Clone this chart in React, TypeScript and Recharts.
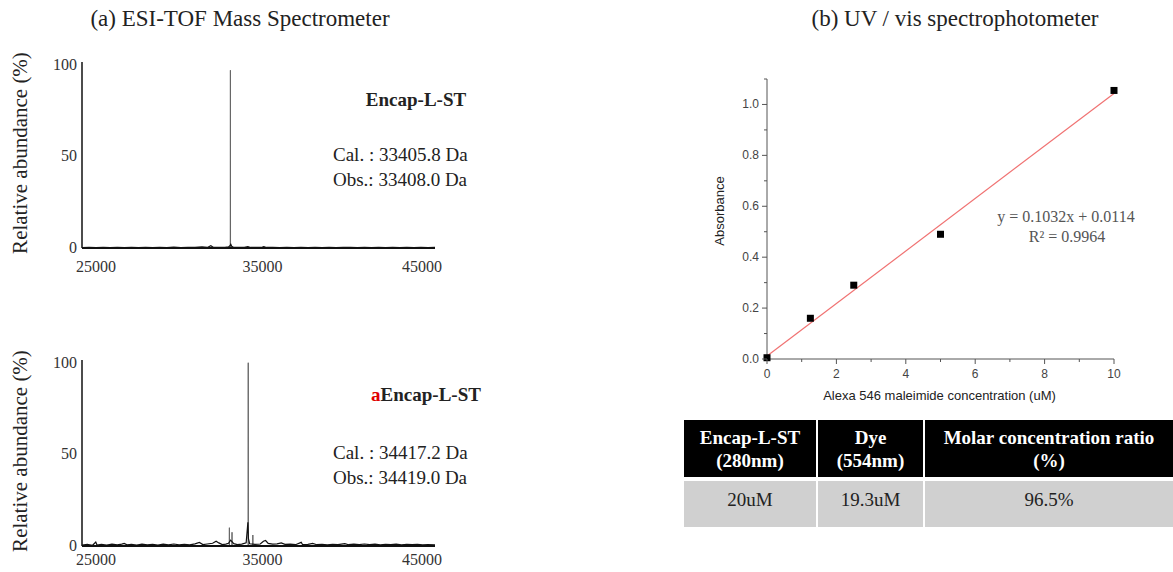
import React from 'react'
import { LineChart, Line, XAxis, YAxis, ComposedChart, Scatter, Label } from 'recharts'

const SERIF = '"Liberation Serif", "Times New Roman", serif'
const SANS = '"Liberation Sans", Arial, sans-serif'

// (a) mass spectra
const massTicks = [25000, 35000, 45000]
const abundanceTicks = [0, 50, 100]

// Encap-L-ST: baseline noise and main peak
const topNoiseMass = [
  25000, 25400, 25800, 26200, 26600, 27000, 27400, 27800, 28200, 28600, 29000, 29400, 29800, 30200,
  30600, 31000, 31400, 31800, 32100, 32300, 32450, 32800, 33100, 33300, 33380, 33430, 33480, 33600,
  33900, 34200, 34400, 34550, 34900, 35150, 35300, 35450, 35800, 36200, 36600, 37000, 37400, 37800,
  38200, 38600, 39000, 39400, 39800, 40200, 40600, 41000, 41400, 41800, 42200, 42600, 43000, 43400,
  43800, 44200, 44600, 45000,
]
const topNoiseAbund = [
  0.2, 0.4, 0.2, 0.3, 0.2, 0.4, 0.2, 0.3, 0.2, 0.4, 0.2, 0.3, 0.2, 0.5,
  0.2, 0.4, 0.3, 0.6, 0.3, 1.2, 0.3, 0.4, 0.3, 0.6, 1.2, 2.0, 0.9, 0.3,
  0.4, 0.3, 0.8, 0.3, 0.4, 0.3, 0.8, 0.3, 0.4, 0.2, 0.4, 0.2, 0.4, 0.2,
  0.3, 0.2, 0.4, 0.2, 0.3, 0.4, 0.2, 0.3, 0.2, 0.3, 0.2, 0.3, 0.2, 0.3,
  0.2, 0.3, 0.2, 0.3,
]
const topPeakMass = [33400, 33408, 33416]
const topPeakAbund = [0, 97, 0]

// aEncap-L-ST
const bottomNoiseMass = [
  25000, 25300, 25600, 25780, 25850, 26100, 26400, 26700, 27000, 27250, 27390, 27550, 27800, 28100,
  28400, 28700, 29000, 29300, 29600, 29900, 30200, 30500, 30800, 31100, 31400, 31650, 31850, 32100,
  32400, 32600, 32750, 32950, 33150, 33300, 33420, 33600, 33800, 34050, 34300, 34400, 34430, 34500,
  34800, 35100, 35280, 35400, 35550, 35800, 36050, 36290, 36500, 36800, 37100, 37420, 37500, 37800,
  38070, 38300, 38600, 38900, 39200, 39500, 39890, 40100, 40400, 40700, 41000, 41300, 41600, 41900,
  42200, 42500, 42800, 43100, 43400, 43700, 44000, 44300, 44600, 45000,
]
const bottomNoiseAbund = [
  0.5, 0.9, 0.4, 2.2, 0.5, 0.9, 0.5, 1.0, 0.6, 1.0, 1.4, 0.6, 0.9, 0.5,
  1.0, 0.6, 0.9, 0.5, 1.0, 0.6, 1.1, 0.6, 0.9, 0.6, 1.2, 1.9, 0.8, 1.1,
  1.5, 2.6, 1.7, 0.8, 1.0, 1.5, 3.2, 1.3, 0.8, 1.0, 1.7, 13, 4.0, 1.2,
  0.9, 1.1, 2.6, 3.0, 1.4, 1.0, 1.2, 1.7, 0.9, 1.0, 0.7, 2.0, 0.7, 0.9,
  1.4, 0.7, 0.9, 0.6, 0.9, 0.7, 1.3, 0.7, 1.0, 0.7, 1.1, 0.7, 1.0, 0.6,
  0.9, 0.7, 1.0, 0.6, 0.9, 0.7, 0.9, 0.6, 0.8, 0.6,
]
const bottomPeakMass = [33340, 33350, 33360, 33490, 33500, 33510, 34410, 34419, 34428, 34670, 34680, 34690]
const bottomPeakAbund = [0, 10, 0, 0, 7.5, 0, 0, 100, 0, 0, 6, 0]

// (b) calibration
const concentration = [0, 1.25, 2.5, 5, 10]
const absorbance = [0.005, 0.16, 0.29, 0.49, 1.055]
const fitX = [0, 10]
const fitY = [0.0114, 1.0434]
const concTicks = [0, 1, 2, 3, 4, 5, 6, 7, 8, 9, 10]
const absTicks = [0, 0.1, 0.2, 0.3, 0.4, 0.5, 0.6, 0.7, 0.8, 0.9, 1.0, 1.1]

const tableHeader = ['Encap-L-ST\n(280nm)', 'Dye\n(554nm)', 'Molar concentration ratio\n(%)']
const tableRow = ['20uM', '19.3uM', '96.5%']

const zip = (xs: number[], ys: number[], kx: string, ky: string) =>
  xs.map((v, i) => ({ [kx]: v, [ky]: ys[i] }))

const MassTick = ({ x, y, payload, index, drop }: any) => {
  const shift = [14, 4, -13][index] ?? 0
  return (
    <text x={x + shift} y={y + drop} textAnchor="middle" fontSize={16} fontFamily={SERIF} fill="#333">
      {payload.value}
    </text>
  )
}

const AbundTick = ({ x, y, payload }: any) => (
  <text x={x - 5} y={y + 5} textAnchor="end" fontSize={16} fontFamily={SERIF} fill="#333">
    {payload.value}
  </text>
)

const SideTitle = ({ viewBox }: any) => {
  const cx = 20
  const cy = viewBox.y + viewBox.height / 2 - 2
  return (
    <text
      x={cx}
      y={cy}
      transform={`rotate(-90 ${cx} ${cy})`}
      textAnchor="middle"
      dominantBaseline="central"
      fontSize={21}
      fontFamily={SERIF}
      fill="#222"
    >
      Relative abundance (%)
    </text>
  )
}

function Spectrum({ noise, peak, drop, marginTop, height }: any) {
  return (
    <LineChart width={460} height={height} margin={{ top: marginTop, right: 25, bottom: 0, left: 0 }}>
      <XAxis
        type="number"
        dataKey="mz"
        domain={[25000, 45000]}
        ticks={massTicks}
        height={height - marginTop - 186}
        tickLine={false}
        tickSize={0}
        tickMargin={0}
        axisLine={{ stroke: '#111', strokeWidth: 2 }}
        tick={(p: any) => <MassTick {...p} drop={drop} />}
        allowDataOverflow
      />
      <YAxis
        type="number"
        domain={[0, 101.5]}
        ticks={abundanceTicks}
        width={82}
        tickLine={false}
        tickSize={0}
        tickMargin={0}
        axisLine={{ stroke: '#111', strokeWidth: 1.5 }}
        tick={<AbundTick />}
      >
        <Label content={<SideTitle />} />
      </YAxis>
      <Line data={peak} dataKey="ab" stroke="#666" strokeWidth={1} dot={false} isAnimationActive={false} />
      <Line data={noise} dataKey="ab" stroke="#111" strokeWidth={1.2} dot={false} isAnimationActive={false} />
    </LineChart>
  )
}

const ConcTick = ({ x, y, payload }: any) => {
  const major = payload.value % 2 === 0
  return (
    <g>
      <line x1={x} x2={x} y1={y} y2={y + (major ? 5 : 3)} stroke="#555" />
      {major && (
        <text x={x} y={y + 19} textAnchor="middle" fontSize={12} fontFamily={SANS} fill="#444">
          {payload.value}
        </text>
      )}
    </g>
  )
}

const AbsTick = ({ x, y, payload }: any) => {
  const n = Math.round(payload.value * 10)
  const major = n % 2 === 0
  return (
    <g>
      <line x1={x} x2={x - (major ? 5 : 3)} y1={y} y2={y} stroke="#555" />
      {major && (
        <text x={x - 8} y={y + 4} textAnchor="end" fontSize={12} fontFamily={SANS} fill="#444">
          {payload.value.toFixed(1)}
        </text>
      )}
    </g>
  )
}

const AbsTitle = ({ viewBox }: any) => {
  const cx = 39
  const cy = viewBox.y + viewBox.height / 2 - 8
  return (
    <text
      x={cx}
      y={cy}
      transform={`rotate(-90 ${cx} ${cy})`}
      textAnchor="middle"
      dominantBaseline="central"
      fontSize={13}
      fontFamily={SANS}
      fill="#222"
    >
      Absorbance
    </text>
  )
}

const ConcTitle = ({ viewBox }: any) => (
  <text
    x={viewBox.x + viewBox.width / 2 - 1}
    y={viewBox.y + 41}
    textAnchor="middle"
    fontSize={13}
    fontFamily={SANS}
    fill="#222"
  >
    Alexa 546 maleimide concentration (uM)
  </text>
)

const SquareDot = ({ cx, cy }: any) => <rect x={cx - 3.5} y={cy - 3.5} width={7} height={7} fill="#000" />

export default function App() {
  const topNoise = zip(topNoiseMass, topNoiseAbund, 'mz', 'ab')
  const topPeak = zip(topPeakMass, topPeakAbund, 'mz', 'ab')
  const bottomNoise = zip(bottomNoiseMass, bottomNoiseAbund, 'mz', 'ab')
  const bottomPeak = zip(bottomPeakMass, bottomPeakAbund, 'mz', 'ab')
  const points = zip(concentration, absorbance, 'x', 'y')
  const fit = zip(fitX, fitY, 'x', 'y')

  const txt = { fontFamily: SERIF, fill: '#222' }

  return (
    <div style={{ position: 'absolute', left: 0, top: 0, width: 1173, height: 572, overflow: 'hidden', background: '#fff' }}>
      <svg width={1173} height={572} style={{ position: 'absolute', left: 0, top: 0 }}>
        <text x={240} y={26} textAnchor="middle" fontSize={23} {...txt}>(a) ESI-TOF Mass Spectrometer</text>
        <text x={955} y={26} textAnchor="middle" fontSize={23} {...txt}>(b) UV / vis spectrophotometer</text>

        <text x={416} y={106} textAnchor="middle" fontSize={19} fontWeight="bold" {...txt}>Encap-L-ST</text>
        <text x={333} y={161} fontSize={19} {...txt}>Cal. : 33405.8 Da</text>
        <text x={333} y={186} fontSize={19} {...txt}>Obs.: 33408.0 Da</text>

        <text x={426} y={401} textAnchor="middle" fontSize={19} fontWeight="bold" {...txt}>
          <tspan fill="#e00000">a</tspan>Encap-L-ST
        </text>
        <text x={333} y={459} fontSize={19} {...txt}>Cal. : 34417.2 Da</text>
        <text x={333} y={484} fontSize={19} {...txt}>Obs.: 34419.0 Da</text>

        <text x={1066} y={222} textAnchor="middle" fontSize={16} fontFamily={SERIF} fill="#555">y = 0.1032x + 0.0114</text>
        <text x={1067} y={242} textAnchor="middle" fontSize={16} fontFamily={SERIF} fill="#555">R² = 0.9964</text>
      </svg>

      <div style={{ position: 'absolute', left: 0, top: 40 }}>
        <Spectrum noise={topNoise} peak={topPeak} drop={24} marginTop={22} height={260} />
      </div>
      <div style={{ position: 'absolute', left: 0, top: 340 }}>
        <Spectrum noise={bottomNoise} peak={bottomPeak} drop={19} marginTop={20} height={232} />
      </div>

      <div style={{ position: 'absolute', left: 680, top: 60 }}>
        <ComposedChart width={480} height={350} margin={{ top: 19, right: 46, bottom: 0, left: 0 }}>
          <XAxis
            type="number"
            dataKey="x"
            domain={[0, 10]}
            ticks={concTicks}
            height={51}
            tickLine={false}
            tickSize={0}
            tickMargin={0}
            axisLine={{ stroke: '#555' }}
            tick={<ConcTick />}
          >
            <Label content={<ConcTitle />} />
          </XAxis>
          <YAxis
            type="number"
            dataKey="y"
            domain={[0, 1.1]}
            ticks={absTicks}
            width={87}
            tickLine={false}
            tickSize={0}
            tickMargin={0}
            axisLine={{ stroke: '#555' }}
            tick={<AbsTick />}
          >
            <Label content={<AbsTitle />} />
          </YAxis>
          <Line data={fit} dataKey="y" stroke="#f07272" strokeWidth={1.2} dot={false} isAnimationActive={false} />
          <Scatter data={points} dataKey="y" shape={<SquareDot />} isAnimationActive={false} />
        </ComposedChart>
      </div>

      <div
        style={{
          position: 'absolute',
          left: 684,
          top: 420,
          display: 'grid',
          gridTemplateColumns: '132px 105px 248px',
          gridTemplateRows: '57px 46px',
          columnGap: 2,
          rowGap: 4,
          fontFamily: SERIF,
          fontSize: 19,
          lineHeight: '23px',
        }}
      >
        {tableHeader.map((h, i) => (
          <div
            key={`h-${i}`}
            style={{
              background: '#000',
              color: '#fff',
              fontWeight: 'bold',
              display: 'flex',
              alignItems: 'center',
              justifyContent: 'center',
              textAlign: 'center',
              whiteSpace: 'pre-line',
            }}
          >
            {h}
          </div>
        ))}
        {tableRow.map((c, i) => (
          <div key={`c-${i}`} style={{ background: '#d0d0d0', color: '#222', textAlign: 'center', paddingTop: 7 }}>
            {c}
          </div>
        ))}
      </div>
    </div>
  )
}
